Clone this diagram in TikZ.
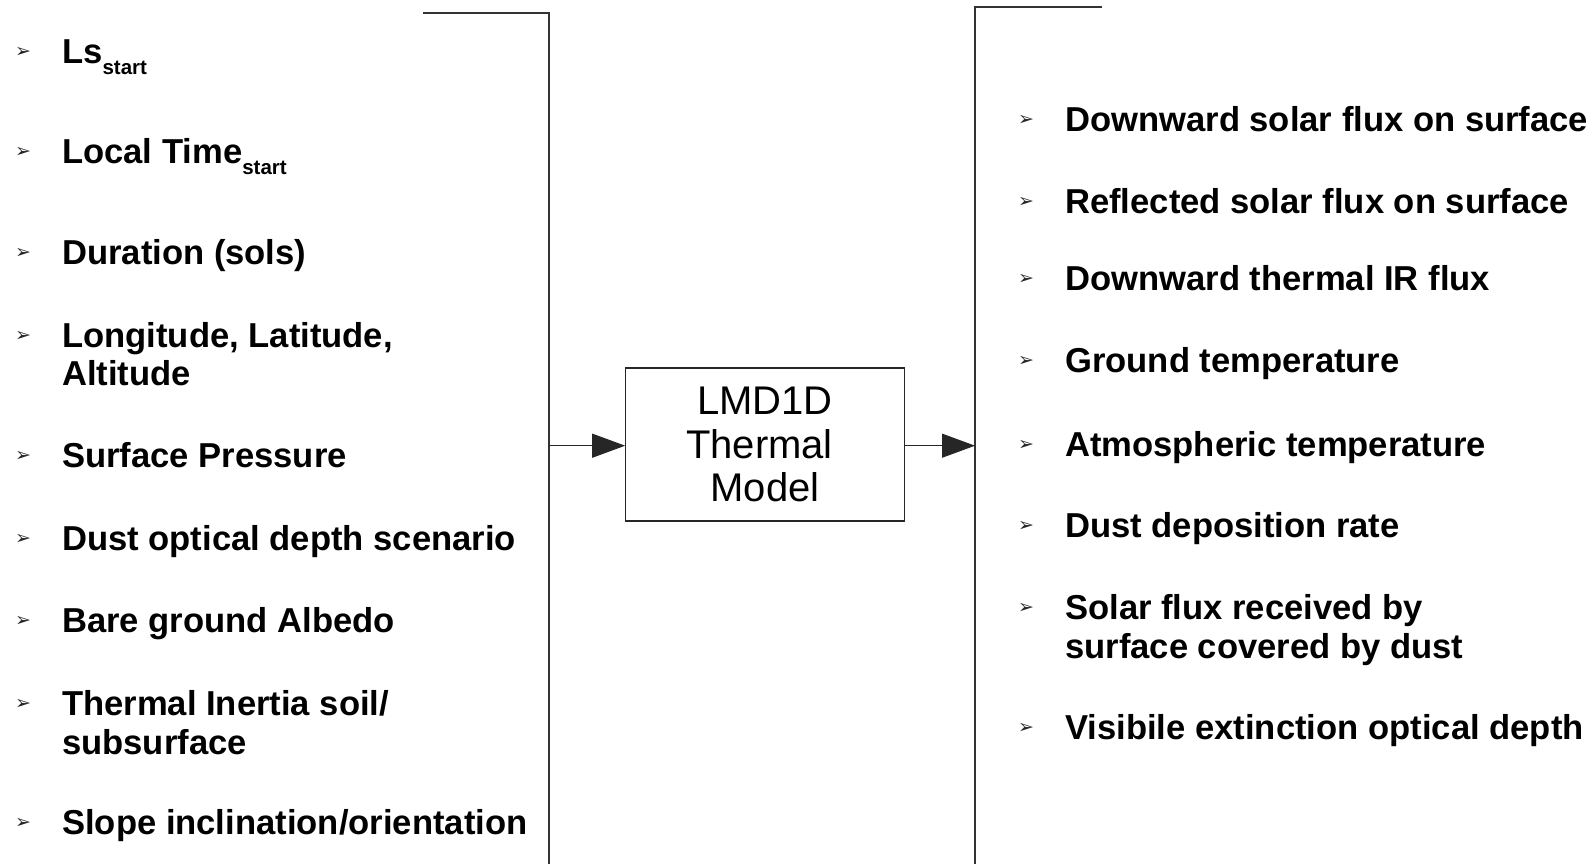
\documentclass[tikz,border=0pt]{standalone}
\usepackage{fontspec}
\setmainfont{Liberation Sans}
\newfontfamily\dejavu{DejaVu Sans}
\usetikzlibrary{arrows.meta}
\tikzset{
  itemtext/.style={anchor=base west, inner sep=0pt, align=left,
    font=\fontsize{34.6}{38.7}\selectfont\bfseries},
  bul/.style={anchor=center, inner sep=0pt, text=black!85, font=\dejavu\fontsize{19}{19}\selectfont},
  bracket/.style={draw=black!80, line width=1.3pt},
  conn/.style={draw=black!85, line width=1.1pt, -{Triangle[length=33pt,width=24pt]}},
  modelbox/.style={draw=black!85, line width=1.1pt, minimum width=278.6pt, minimum height=153pt,
    inner sep=0pt, align=center, font=\fontsize{40}{43.7}\selectfont}
}
\newcommand{\subst}{\raisebox{-11pt}{\fontsize{20.5}{21}\selectfont start}}
\begin{document}
\begin{tikzpicture}[x=1pt,y=-1pt]
\useasboundingbox (0,0) rectangle (1595,864);
% brackets
\coordinate (lt) at (423,13);
\coordinate (ltc) at (549,13);
\coordinate (lb) at (549,864);
\coordinate (rt) at (1102,7);
\coordinate (rtc) at (975,7);
\coordinate (rb) at (975,864);
\draw[bracket] (lt) -- (ltc) -- (lb);
\draw[bracket] (rt) -- (rtc) -- (rb);
% model
\node[modelbox] (model) at (765,444.5) {\raisebox{-2pt}{LMD1D}\\\raisebox{-2pt}{Thermal\kern11pt}\\\raisebox{-2pt}{Model}};
\coordinate (lin) at (549,445.7);
\coordinate (rin) at (975,445.7);
\draw[conn] (lin) -- (lin -| model.west);
\draw[conn] (rin -| model.east) -- (rin);
% left items (first-line baseline / last-line baseline)
\foreach \b/\l/\n/\t in {
  63.4/63.4/i1/{Ls\subst},
  163/163/i2/{Local Time\subst},
  264.8/264.8/i3/{Duration (sols)},
  347.2/385.9/i4/{Longitude, Latitude,\\Altitude},
  467.2/467.2/i5/{Surface Pressure},
  550.6/550.6/i6/{Dust optical depth scenario},
  632/632/i7/{Bare ground Albedo},
  715.4/754.1/i8/{Thermal Inertia soil/\\subsurface},
  834.4/834.4/i9/{Slope inclination/orientation}}{
  \node[bul] (b\n) at (23,\b-11) {➢};
  \node[itemtext] (\n) at (62,\l) {\t};
}
% right items
\foreach \b/\l/\n/\t in {
  131.5/131.5/o1/{Downward solar flux on surface},
  213.9/213.9/o2/{Reflected solar flux on surface},
  290.2/290.2/o3/{Downward thermal IR flux},
  372.6/372.6/o4/{Ground temperature},
  456/456/o5/{Atmospheric temperature},
  537.4/537.4/o6/{Dust deposition rate},
  619.8/658.5/o7/{Solar flux received by\\surface covered by dust},
  739.8/739.8/o8/{Visibile extinction optical depth}}{
  \node[bul] (b\n) at (1026,\b-11) {➢};
  \node[itemtext] (\n) at (1065,\l) {\t};
}
\end{tikzpicture}
\end{document}
